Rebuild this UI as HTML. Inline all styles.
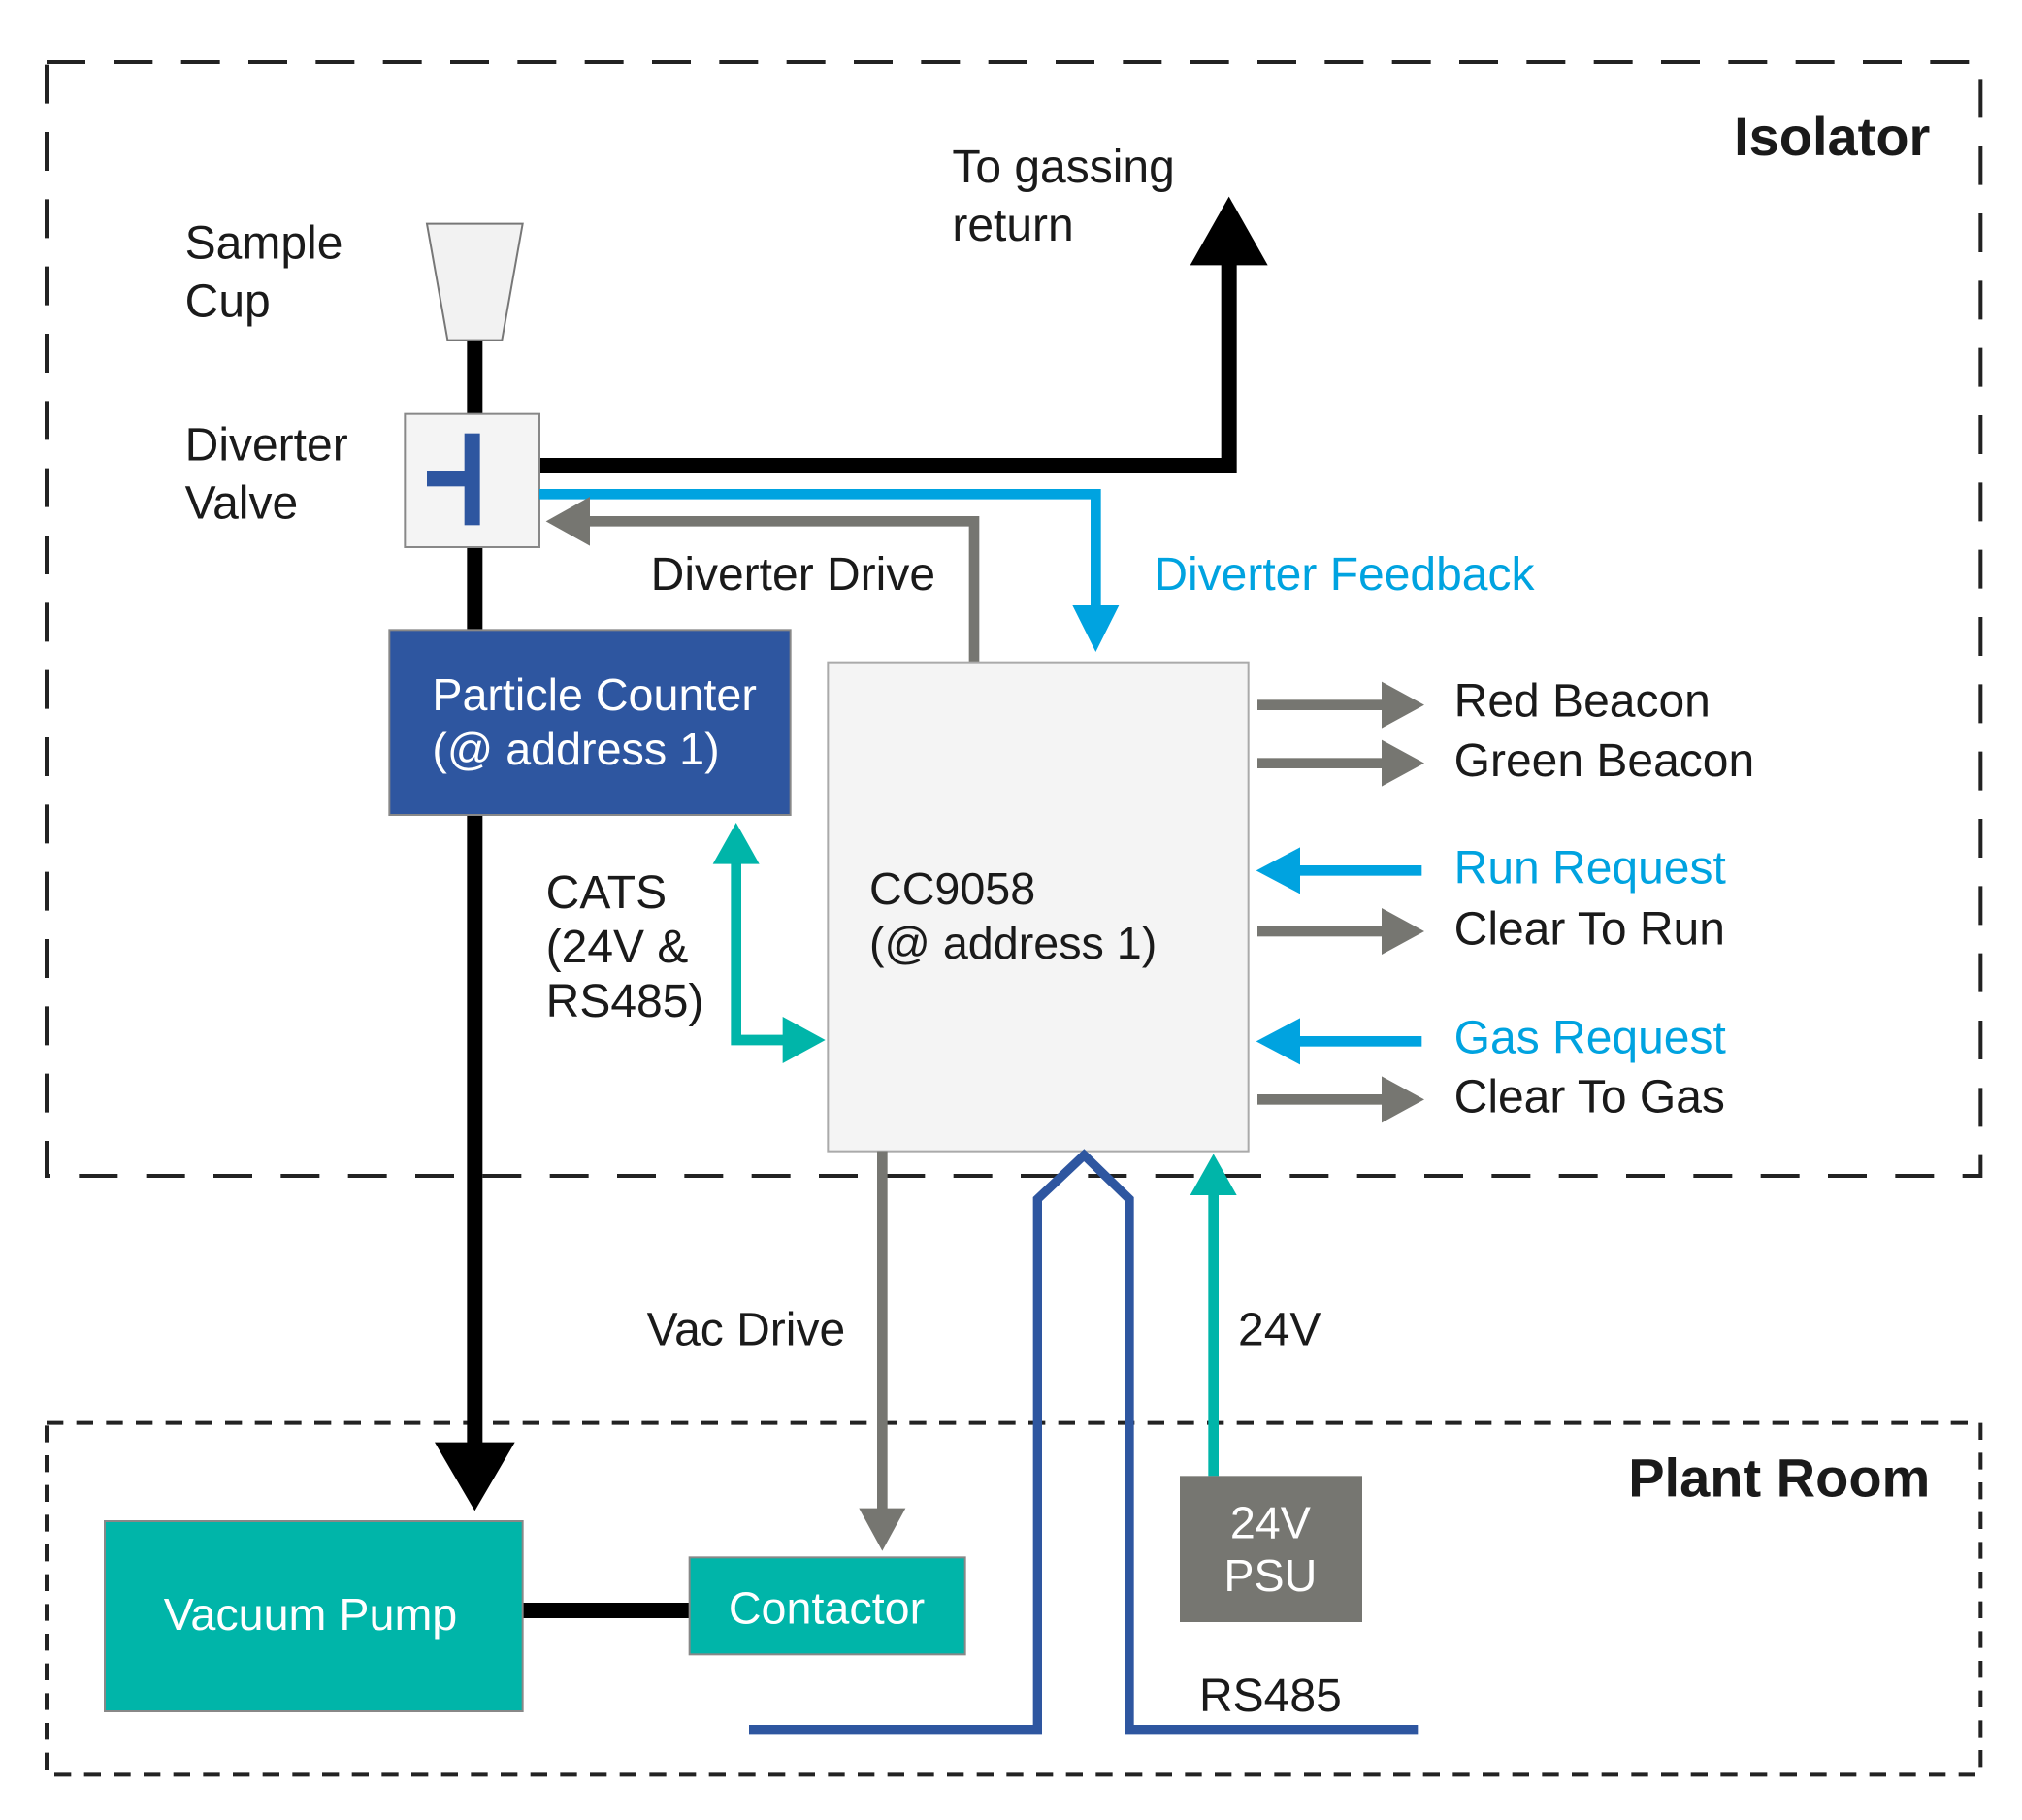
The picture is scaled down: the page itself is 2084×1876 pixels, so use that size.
<!DOCTYPE html>
<html><head><meta charset="utf-8"><style>
html,body{margin:0;padding:0;background:#fff;}
svg{display:block;}
text{font-family:"Liberation Sans",Arial,sans-serif;font-size:36px;fill:#1a1a1a;}
</style></head><body>
<svg width="2084" height="1876" viewBox="0 0 1563 1407" xmlns="http://www.w3.org/2000/svg">
<rect x="0" y="0" width="1563" height="1407" fill="#fff"/>
<rect x="36" y="48" width="1495" height="861" fill="none" stroke="#222" stroke-width="3" stroke-dasharray="30,22"/>
<rect x="36" y="1100" width="1495" height="272" fill="none" stroke="#222" stroke-width="3" stroke-dasharray="13,10"/>
<text x="1492" y="120" text-anchor="end" style="font-weight:bold;font-size:42px">Isolator</text>
<text x="1492" y="1157" text-anchor="end" style="font-weight:bold;font-size:42px">Plant Room</text>

<line x1="367" y1="262" x2="367" y2="1120" stroke="#000" stroke-width="12"/>
<polygon points="336,1115 398,1115 367,1168" fill="#000"/>
<polyline points="417,360 950,360 950,200" fill="none" stroke="#000" stroke-width="12"/>
<polygon points="920,205 980,205 950,152" fill="#000"/>
<line x1="404" y1="1245" x2="533" y2="1245" stroke="#000" stroke-width="12"/>

<polygon points="330,173 404,173 388,263 346,263" fill="#f2f2f2" stroke="#777" stroke-width="1.5"/>
<text x="143" y="200">Sample</text><text x="143" y="245">Cup</text>

<rect x="313" y="320" width="104" height="103" fill="#f4f4f4" stroke="#888" stroke-width="1.5"/>
<rect x="359" y="335" width="12" height="71" fill="#2e56a0"/>
<rect x="330" y="364" width="32" height="12" fill="#2e56a0"/>
<text x="143" y="356">Diverter</text><text x="143" y="401">Valve</text>

<polyline points="417,382 847,382 847,475" fill="none" stroke="#00a3e0" stroke-width="8"/>
<polygon points="829,468 865,468 847,504" fill="#00a3e0"/>
<polyline points="753,512 753,403 450,403" fill="none" stroke="#767671" stroke-width="8"/>
<polygon points="456,384 456,422 422,403" fill="#767671"/>
<text x="503" y="456">Diverter Drive</text>
<text x="892" y="456" style="fill:#00a3e0">Diverter Feedback</text>

<text x="736" y="141">To gassing</text><text x="736" y="186">return</text>

<rect x="301" y="487" width="310" height="143" fill="#2e56a0" stroke="#888" stroke-width="1.5"/>
<text x="334" y="549" style="fill:#fff;font-size:35px">Particle Counter</text>
<text x="334" y="591" style="fill:#fff;font-size:35px">(@ address 1)</text>

<rect x="640" y="512" width="325" height="378" fill="#f4f4f4" stroke="#aaa" stroke-width="1.5"/>
<text x="672" y="699" style="font-size:35px">CC9058</text>
<text x="672" y="741" style="font-size:35px">(@ address 1)</text>

<polyline points="569,662 569,804 608,804" fill="none" stroke="#00b5a9" stroke-width="8"/>
<polygon points="551,668 587,668 569,636" fill="#00b5a9"/>
<polygon points="605,786 605,822 638,804" fill="#00b5a9"/>
<text x="422" y="702">CATS</text><text x="422" y="744">(24V &amp;</text><text x="422" y="786">RS485)</text>

<g fill="#767671" stroke="none">
<rect x="972" y="541" width="100" height="8"/><polygon points="1068,527 1068,563 1101,545"/>
<rect x="972" y="586" width="100" height="8"/><polygon points="1068,572 1068,608 1101,590"/>
<rect x="972" y="716" width="100" height="8"/><polygon points="1068,702 1068,738 1101,720"/>
<rect x="972" y="846" width="100" height="8"/><polygon points="1068,832 1068,868 1101,850"/>
</g>
<g fill="#00a3e0">
<rect x="1000" y="669" width="99" height="8"/><polygon points="1005,655 1005,691 971,673"/>
<rect x="1000" y="801" width="99" height="8"/><polygon points="1005,787 1005,823 971,805"/>
</g>
<text x="1124" y="554">Red Beacon</text>
<text x="1124" y="600">Green Beacon</text>
<text x="1124" y="683" style="fill:#00a3e0">Run Request</text>
<text x="1124" y="730">Clear To Run</text>
<text x="1124" y="814" style="fill:#00a3e0">Gas Request</text>
<text x="1124" y="860">Clear To Gas</text>

<line x1="682" y1="890" x2="682" y2="1170" stroke="#767671" stroke-width="8"/>
<polygon points="664,1166 700,1166 682,1199" fill="#767671"/>
<text x="500" y="1040">Vac Drive</text>

<polyline points="579,1337 802,1337 802,927 838,893 873,927 873,1337 1096,1337" fill="none" stroke="#2e56a0" stroke-width="7"/>
<text x="927" y="1323">RS485</text>

<line x1="938" y1="1141" x2="938" y2="920" stroke="#00b5a9" stroke-width="8"/>
<polygon points="920,924 956,924 938,892" fill="#00b5a9"/>
<text x="957" y="1040">24V</text>

<rect x="912" y="1141" width="141" height="113" fill="#767671"/>
<text x="982" y="1189" text-anchor="middle" style="fill:#fff;font-size:35px">24V</text>
<text x="982" y="1230" text-anchor="middle" style="fill:#fff;font-size:35px">PSU</text>

<rect x="81" y="1176" width="323" height="147" fill="#00b5a9" stroke="#888" stroke-width="1.5"/>
<text x="240" y="1260" text-anchor="middle" style="fill:#fff;font-size:35px">Vacuum Pump</text>
<rect x="533" y="1204" width="213" height="75" fill="#00b5a9" stroke="#888" stroke-width="1.5"/>
<text x="639" y="1255" text-anchor="middle" style="fill:#fff;font-size:35px">Contactor</text>
</svg>
</body></html>
